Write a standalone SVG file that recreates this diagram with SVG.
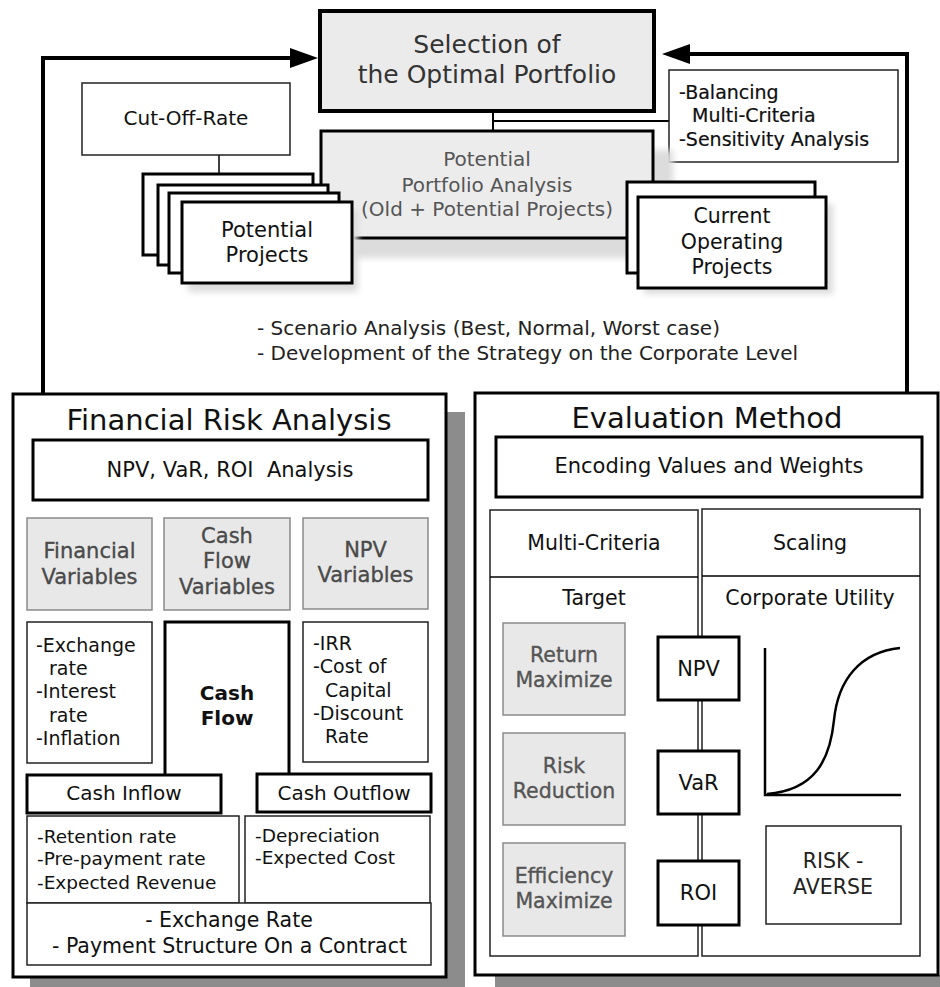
<svg xmlns="http://www.w3.org/2000/svg" width="940" height="987" viewBox="0 0 940 987">
<defs>
<style>
text{font-family:"DejaVu Sans","Liberation Sans",sans-serif;fill:#111}
.c{text-anchor:middle}
.thick{fill:#fff;stroke:#000;stroke-width:3}
.thin{fill:#fff;stroke:#222;stroke-width:1.5}
.gray{fill:#e8e8e8;stroke:#8a8a8a;stroke-width:1.5}
.gt{fill:#4a4a4a;stroke:#4a4a4a;stroke-width:0.35}
.ln{fill:none;stroke:#000;stroke-width:1.5}
.lnb{fill:none;stroke:#000;stroke-width:3}
.arrow{fill:none;stroke:#000;stroke-width:4}
.shadow{fill:#8c8c8c}
.soft{fill:#dcdcdc;filter:url(#blur)}
</style>
<filter id="blur" x="-10%" y="-10%" width="120%" height="120%"><feGaussianBlur stdDeviation="3"/></filter>
<marker id="ah" markerUnits="userSpaceOnUse" markerWidth="30" markerHeight="22" refX="0" refY="10" orient="auto">
<path d="M0,0 L28,10 L0,20 z" fill="#000"/>
</marker>
</defs>
<rect width="940" height="987" fill="#fff"/>

<g id="connectors">
<path class="arrow" d="M43,394 L43,58 L290,58" marker-end="url(#ah)"/>
<path class="arrow" d="M907,392 L907,54 L690,54" marker-end="url(#ah)"/>
<path class="ln" d="M219,155 L219,174"/>
<path class="ln" d="M493,111 L493,131" style="stroke-width:2"/>
<path class="ln" d="M493,121 L669,121" style="stroke-width:2"/>
<path class="ln" d="M96,610 L96,622"/>
<path class="ln" d="M234,610 L234,622"/>
<path class="ln" d="M359,609 L359,622"/>
<path class="lnb" d="M221,793 L257,793"/>
<path class="ln" d="M625,671 L658,671"/>
<path class="ln" d="M625,785 L658,785"/>
<path class="ln" d="M625,893 L658,893"/>
</g>

<g id="selection">
<rect x="320" y="11" width="334" height="100" fill="#ebebeb" stroke="#000" stroke-width="4"/>
<text class="c" x="487" y="53" font-size="25" style="fill:#333">Selection of</text>
<text class="c" x="487" y="83" font-size="25" style="fill:#333">the Optimal Portfolio</text>
</g>

<g id="balancing">
<rect class="thin" x="669" y="70" width="229" height="92"/>
<text x="679" y="99" font-size="19" stroke="#000" stroke-width="0.2">-Balancing</text>
<text x="692" y="122" font-size="19" stroke="#000" stroke-width="0.2">Multi-Criteria</text>
<text x="679" y="146" font-size="19" stroke="#000" stroke-width="0.2">-Sensitivity Analysis</text>
</g>

<g id="cutoff">
<rect class="thin" x="82" y="83" width="208" height="72"/>
<text class="c" x="186" y="125" font-size="20">Cut-Off-Rate</text>
</g>

<g id="portfolio">
<rect class="soft" x="340" y="150" width="333" height="108"/>
<rect x="321" y="131" width="332" height="107" fill="#ececec" stroke="#000" stroke-width="3"/>
<text class="c" x="487" y="166" font-size="20" style="fill:#555">Potential</text>
<text class="c" x="487" y="192" font-size="20" style="fill:#555">Portfolio Analysis</text>
<text class="c" x="487" y="216" font-size="20" style="fill:#555">(Old + Potential Projects)</text>
</g>

<g id="potential-projects">
<rect class="thick" x="143" y="174" width="170" height="81"/>
<rect class="thick" x="158" y="185" width="170" height="80"/>
<rect class="thick" x="169" y="193" width="170" height="80"/>
<rect class="soft" x="188" y="210" width="170" height="82"/>
<rect class="thick" x="182" y="202" width="170" height="81"/>
<text class="c" x="267" y="237" font-size="21">Potential</text>
<text class="c" x="267" y="262" font-size="21">Projects</text>
</g>

<g id="current-projects">
<rect class="thick" x="627" y="182" width="188" height="91"/>
<rect class="soft" x="644" y="204" width="189" height="90"/>
<rect class="thick" x="638" y="197" width="188" height="91"/>
<text class="c" x="732" y="223" font-size="20.5">Current</text>
<text class="c" x="732" y="249" font-size="20.5">Operating</text>
<text class="c" x="732" y="274" font-size="20.5">Projects</text>
</g>

<g id="scenario">
<text x="257" y="335" font-size="20" style="fill:#222">- Scenario Analysis (Best, Normal, Worst case)</text>
<text x="257" y="360" font-size="20" style="fill:#222">- Development of the Strategy on the Corporate Level</text>
</g>

<g id="financial-risk">
<rect class="shadow" x="446" y="412" width="19" height="575"/>
<rect class="shadow" x="30" y="977" width="435" height="10"/>
<rect class="thick" x="13" y="394" width="433" height="583"/>
<text class="c" x="229" y="430" font-size="29">Financial Risk Analysis</text>
</g>

<g id="npv-var-roi">
<rect class="thick" x="33" y="440" width="395" height="60"/>
<text class="c" x="230" y="477" font-size="21" xml:space="preserve">NPV, VaR, ROI  Analysis</text>
</g>

<g id="financial-variables">
<rect class="gray" x="27" y="518" width="125" height="92"/>
<text class="c gt" x="89.5" y="558" font-size="21">Financial</text>
<text class="c gt" x="89.5" y="584" font-size="21">Variables</text>
</g>

<g id="cashflow-variables">
<rect class="gray" x="164" y="518" width="126" height="92"/>
<text class="c gt" x="227" y="543" font-size="21">Cash</text>
<text class="c gt" x="227" y="568" font-size="21">Flow</text>
<text class="c gt" x="227" y="594" font-size="21">Variables</text>
</g>

<g id="npv-variables">
<rect class="gray" x="303" y="518" width="125" height="91"/>
<text class="c gt" x="365.5" y="557" font-size="21">NPV</text>
<text class="c gt" x="365.5" y="582" font-size="21">Variables</text>
</g>

<g id="financial-list">
<rect class="thin" x="27" y="622" width="125" height="141"/>
<text x="36" y="652" font-size="19">-Exchange</text>
<text x="49" y="675" font-size="19">rate</text>
<text x="36" y="698" font-size="19">-Interest</text>
<text x="49" y="722" font-size="19">rate</text>
<text x="36" y="745" font-size="19">-Inflation</text>
</g>

<g id="cash-flow">
<path d="M165,775 L165,622 L289,622 L289,775" fill="#fff" stroke="#000" stroke-width="3"/>
<text class="c" x="227" y="700" font-size="20" font-weight="bold">Cash</text>
<text class="c" x="227" y="725" font-size="20" font-weight="bold">Flow</text>
</g>

<g id="npv-list">
<rect class="thin" x="303" y="622" width="125" height="140"/>
<text x="313" y="650" font-size="19">-IRR</text>
<text x="313" y="673" font-size="19">-Cost of</text>
<text x="325" y="697" font-size="19">Capital</text>
<text x="313" y="720" font-size="19">-Discount</text>
<text x="325" y="743" font-size="19">Rate</text>
</g>

<g id="cash-inflow">
<rect class="thick" x="27" y="775" width="194" height="38"/>
<text class="c" x="124" y="800" font-size="20">Cash Inflow</text>
</g>

<g id="cash-outflow">
<rect class="thick" x="257" y="774" width="174" height="38"/>
<text class="c" x="344" y="800" font-size="20">Cash Outflow</text>
</g>

<g id="inflow-list">
<rect class="thin" x="27" y="816" width="212" height="87"/>
<text x="37" y="843" font-size="18.5">-Retention rate</text>
<text x="37" y="865" font-size="18.5">-Pre-payment rate</text>
<text x="37" y="889" font-size="18.5">-Expected Revenue</text>
</g>

<g id="outflow-list">
<rect class="thin" x="245" y="816" width="185" height="87"/>
<text x="255" y="842" font-size="18.5">-Depreciation</text>
<text x="255" y="864" font-size="18.5">-Expected Cost</text>
</g>

<g id="exchange">
<rect class="thin" x="27" y="903" width="404" height="62"/>
<text class="c" x="229" y="927" font-size="20.5">- Exchange Rate</text>
<text class="c" x="229.5" y="953" font-size="20.5">- Payment Structure On a Contract</text>
</g>

<g id="evaluation-method">
<rect class="shadow" x="495" y="975" width="445" height="12"/>
<rect class="thick" x="475" y="393" width="463" height="582"/>
<text class="c" x="707" y="428" font-size="29">Evaluation Method</text>
</g>

<g id="encoding">
<rect class="thick" x="496" y="437" width="426" height="60"/>
<text class="c" x="709" y="473" font-size="21">Encoding Values and Weights</text>
</g>

<g id="multi-criteria">
<rect class="thin" x="490" y="510" width="208" height="446"/>
<path class="ln" d="M490,577 L698,577"/>
<text class="c" x="594" y="550" font-size="20.5">Multi-Criteria</text>
<text class="c" x="594" y="605" font-size="20.5">Target</text>
</g>

<g id="scaling">
<rect class="thin" x="702" y="509" width="218" height="447"/>
<path class="ln" d="M702,576 L920,576"/>
<text class="c" x="810" y="550" font-size="20.5">Scaling</text>
<text class="c" x="810" y="605" font-size="20.5">Corporate Utility</text>
</g>

<g id="return-maximize">
<rect class="gray" x="503" y="623" width="122" height="92"/>
<text class="c gt" x="564" y="662" font-size="20.5" style="fill:#555;stroke:#555">Return</text>
<text class="c gt" x="564" y="687" font-size="20.5" style="fill:#555;stroke:#555">Maximize</text>
</g>

<g id="risk-reduction">
<rect class="gray" x="503" y="733" width="122" height="92"/>
<text class="c gt" x="564" y="773" font-size="20.5" style="fill:#555;stroke:#555">Risk</text>
<text class="c gt" x="564" y="798" font-size="20.5" style="fill:#555;stroke:#555">Reduction</text>
</g>

<g id="efficiency-maximize">
<rect class="gray" x="503" y="843" width="122" height="93"/>
<text class="c gt" x="564" y="883" font-size="20.5" style="fill:#555;stroke:#555">Efficiency</text>
<text class="c gt" x="564" y="908" font-size="20.5" style="fill:#555;stroke:#555">Maximize</text>
</g>

<g id="npv">
<rect class="thick" x="658" y="637" width="81" height="63"/>
<text class="c" x="698.5" y="676" font-size="21">NPV</text>
</g>

<g id="var">
<rect class="thick" x="658" y="751" width="81" height="63"/>
<text class="c" x="698.5" y="790" font-size="21">VaR</text>
</g>

<g id="roi">
<rect class="thick" x="658" y="861" width="81" height="64"/>
<text class="c" x="698.5" y="900" font-size="21">ROI</text>
</g>

<g id="utility-curve">
<path d="M765,648 L765,795 L901,795" fill="none" stroke="#000" stroke-width="2.5"/>
<path d="M767,794 C815,790 830,760 834,720 C838,680 860,652 900,648" fill="none" stroke="#000" stroke-width="2.5"/>
</g>

<g id="risk-averse">
<rect class="thin" x="766" y="826" width="135" height="98"/>
<text class="c" x="833" y="868" font-size="20.5" style="fill:#222">RISK -</text>
<text class="c" x="833" y="894" font-size="20.5" style="fill:#222">AVERSE</text>
</g>
</svg>
